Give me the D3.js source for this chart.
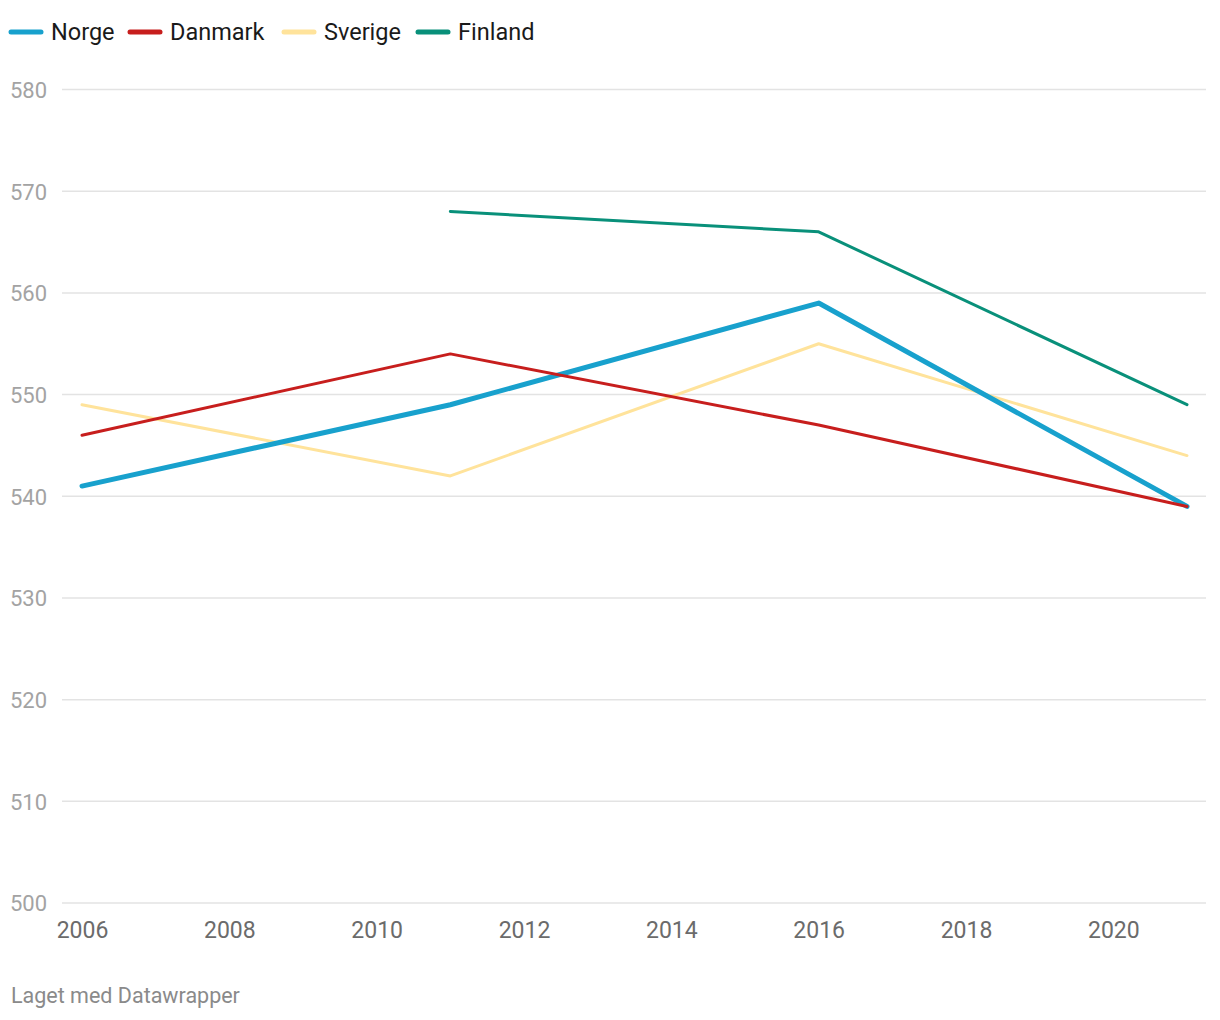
<!DOCTYPE html>
<html><head><meta charset="utf-8">
<script src="https://cdn.jsdelivr.net/npm/d3@7"></script>
<style>
html,body{margin:0;padding:0;background:#fff;}
svg{display:block;font-family:Roboto,"Noto Sans",sans-serif;}
</style></head>
<body>
<svg id="chart" width="1220" height="1020"></svg>
<script>
const years = [2006, 2011, 2016, 2021];
const seriesNames = ["Norge", "Danmark", "Sverige", "Finland"];
const norge = [541, 549, 559, 539];
const danmark = [546, 554, 547, 539];
const sverige = [549, 542, 555, 544];
const finland = [null, 568, 566, 549];
const colors = ["#18a1cd", "#c71e1d", "#ffe39b", "#09907a"];
const widths = [5, 3, 3, 3];
const yTicks = [500, 510, 520, 530, 540, 550, 560, 570, 580];
const xTicks = [2006, 2008, 2010, 2012, 2014, 2016, 2018, 2020];
const footer = "Laget med Datawrapper";

const values = [norge, danmark, sverige, finland];
const svg = d3.select("#chart");

const x = d3.scaleLinear().domain([2006, 2021]).range([82, 1187]);
const y = d3.scaleLinear().domain([500, 580]).range([903, 89.5]);

// grid
const grid = svg.append("g");
grid.selectAll("line").data(yTicks).join("line")
  .attr("x1", 62).attr("x2", 1206)
  .attr("y1", d => y(d)).attr("y2", d => y(d))
  .attr("stroke", "#e3e3e3").attr("stroke-width", 1.5);

// y labels
const yAxis = d3.axisLeft(y).tickValues(yTicks).tickSize(0).tickPadding(0);
const gy = svg.append("g").attr("transform", "translate(10,0)").call(yAxis);
gy.select(".domain").remove();
gy.selectAll("text").attr("text-anchor", "start").attr("x", 0)
  .attr("dy", "0.36em")
  .style("font-size", "22px").style("font-family", "Roboto").attr("fill", "#a3a3a3");

// x labels
const xAxis = d3.axisBottom(x).tickValues(xTicks).tickFormat(d3.format("d")).tickSize(0).tickPadding(0);
const gx = svg.append("g").attr("transform", "translate(0,938)").call(xAxis);
gx.select(".domain").remove();
gx.selectAll("text").attr("dy", "0").attr("y", 0)
  .style("font-size", "23px").style("font-family", "Roboto").attr("fill", "#6b6b6b");

// lines, draw order: Finland, Sverige, Norge, Danmark
const order = [3, 2, 0, 1];
const line = d3.line().defined(d => d.v != null).x(d => x(d.year)).y(d => y(d.v));
order.forEach(i => {
  const data = years.map((yr, j) => ({year: yr, v: values[i][j]}));
  svg.append("path").datum(data)
    .attr("d", line)
    .attr("fill", "none")
    .attr("stroke", colors[i])
    .attr("stroke-width", widths[i])
    .attr("stroke-linecap", "round")
    .attr("stroke-linejoin", "round");
});

// legend
const legendX = [11, 130, 284, 418];
const lg = svg.append("g");
seriesNames.forEach((name, i) => {
  lg.append("line").attr("x1", legendX[i]).attr("x2", legendX[i] + 30)
    .attr("y1", 32).attr("y2", 32)
    .attr("stroke", colors[i]).attr("stroke-width", 5).attr("stroke-linecap", "round");
  lg.append("text").attr("x", legendX[i] + 40).attr("y", 32).attr("dy", "0.36em")
    .style("font-size", "23.5px").attr("fill", "#1a1a1a").text(name);
});

// footer
svg.append("text").attr("x", 11).attr("y", 1003)
  .style("font-size", "21.5px").attr("fill", "#8a8a8a").text(footer);
</script>
</body></html>
